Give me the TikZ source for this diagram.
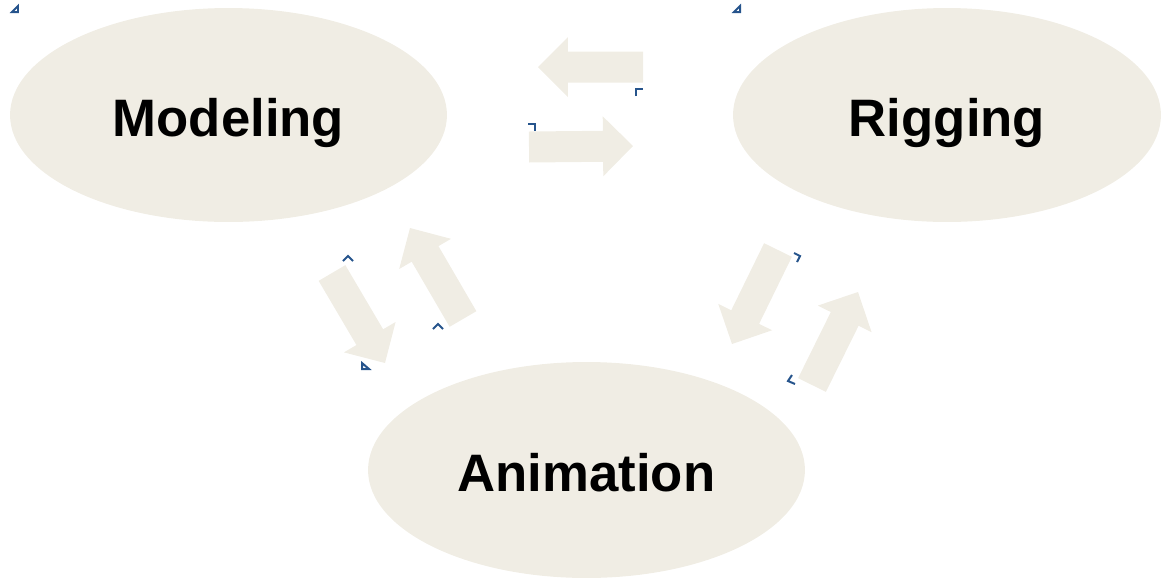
\documentclass[tikz,border=0pt]{standalone}
\usepackage{fontspec}
\setmainfont{Liberation Sans}
\usepackage{xcolor}
\usepackage{tikz}
\usetikzlibrary{calc,shapes.geometric}

\definecolor{stagefill}{RGB}{240,237,228}
\definecolor{handle}{RGB}{38,84,140}

% block arrow from tail (#1) to tip (#2)
\newcommand{\blockarrow}[2]{%
  \coordinate (hb) at ($(#2)!0.6cm!(#1)$);
  \fill[arrowfill] ($(#1)!0.31cm!90:(#2)$) -- ($(hb)!0.31cm!90:(#2)$)
    -- ($(hb)!0.6cm!90:(#2)$) -- (#2) -- ($(hb)!0.6cm!-90:(#2)$)
    -- ($(hb)!0.31cm!-90:(#2)$) -- ($(#1)!0.31cm!-90:(#2)$) -- cycle;
}

\begin{document}
\begin{tikzpicture}[
    x=0.02cm, y=-0.02cm,
    stage/.style={ellipse, fill=stagefill, inner sep=0pt,
      text height=25pt, text depth=0pt,
      font=\fontsize{30}{36}\selectfont\bfseries},
    arrowfill/.style={fill=stagefill},
    handlemark/.style={draw=handle, line width=0.04cm}
]
    \useasboundingbox (0,0) rectangle (1161,579);

    \node[stage, minimum width=8.74cm, minimum height=4.28cm] (M) at (228.5,115) {Modeling};
    \node[stage, minimum width=8.56cm, minimum height=4.28cm] (R) at (947,115) {Rigging};
    \node[stage, minimum width=8.74cm, minimum height=4.32cm] (A) at (586.5,470) {Animation};

    % arrow ends
    \coordinate (rm1) at (643,67);  \coordinate (rm2) at (538,67);
    \coordinate (mr1) at (529,147); \coordinate (mr2) at (633,146);
    \coordinate (ma1) at (332,273); \coordinate (ma2) at (385,363);
    \coordinate (am1) at (463,319); \coordinate (am2) at (410,228);
    \coordinate (ra1) at (778,250); \coordinate (ra2) at (732,344);
    \coordinate (ar1) at (812,385); \coordinate (ar2) at (858,292);

    % Block arrows
    \blockarrow{rm1}{rm2}
    \blockarrow{mr1}{mr2}
    \blockarrow{ma1}{ma2}
    \blockarrow{am1}{am2}
    \blockarrow{ra1}{ra2}
    \blockarrow{ar1}{ar2}

    % Handles
    \draw[handlemark] (12,12) -- (18,6) -- (18,12) -- cycle;
    \draw[handlemark] (734,12) -- (740,6) -- (740,12) -- cycle;
    \draw[handlemark] (362,363) -- (362,369) -- (369,369) -- cycle;
    \draw[handlemark] (636,96) -- (636,89) -- (643,89);
    \draw[handlemark] (528,124) -- (535,124) -- (535,131);
    \draw[handlemark] (343,261) -- (348,256) -- (353,261);
    \draw[handlemark] (433,329) -- (438,324) -- (443,329);
    \draw[handlemark] (794,253) -- (800,256) -- (797,262);
    \draw[handlemark] (792,375) -- (788,381) -- (795,384);
\end{tikzpicture}
\end{document}
